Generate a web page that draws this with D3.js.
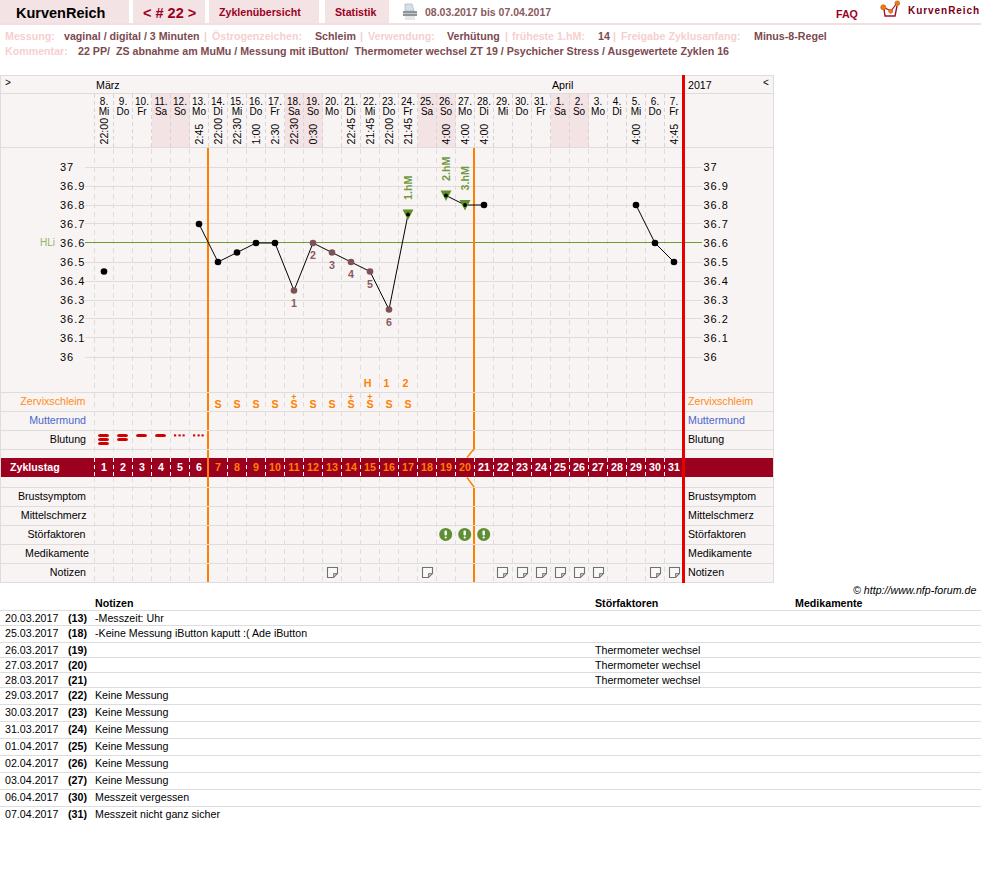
<!DOCTYPE html>
<html><head><meta charset="utf-8">
<script src="https://cdn.jsdelivr.net/npm/d3@7/dist/d3.min.js"></script>
<style>html,body{margin:0;padding:0;background:#fff}svg{display:block}text{font-family:"Liberation Sans",Arial,sans-serif}</style>
</head><body><svg id="c" width="981" height="882"></svg>
<script>
const cycleDays = d3.range(1, 32);
const dayNums = [8,9,10,11,12,13,14,15,16,17,18,19,20,21,22,23,24,25,26,27,28,29,30,31,1,2,3,4,5,6,7];
const weekdays = ["Mi","Do","Fr","Sa","So","Mo","Di","Mi","Do","Fr","Sa","So","Mo","Di","Mi","Do","Fr","Sa","So","Mo","Di","Mi","Do","Fr","Sa","So","Mo","Di","Mi","Do","Fr"];
const times = ["22:00","","","","","2:45","22:00","22:30","1:00","2:30","22:30","0:30","","22:45","21:45","22:00","21:45","","4:00","4:00","4:00","","","","","","","","4:00","","4:45"];
const temps = [36.45,null,null,null,null,36.7,36.5,36.55,36.6,36.6,36.35,36.6,36.55,36.5,36.45,36.25,36.75,null,36.85,36.8,36.8,null,null,null,null,null,null,null,36.8,36.6,36.5];
const lineSegments = [[6,17],[19,21],[29,31]];
const tempTicks = [37,36.9,36.8,36.7,36.6,36.5,36.4,36.3,36.2,36.1,36];
const lowCounts = [[11,"1"],[12,"2"],[13,"3"],[14,"4"],[15,"5"],[16,"6"]];
const highLabels = [[17,"1.hM"],[19,"2.hM"],[20,"3.hM"]];
const coverLine = 36.6;
const mucusDays = [7,8,9,10,11,12,13,14,15,16,17];
const mucusPlusDays = [11,14,15];
const peakLabels = [[15,"H"],[16,"1"],[17,"2"]];
const bleeding = [[1,3],[2,2],[3,1],[4,1],[5,0],[6,0]];
const disturb = [19,20,21];
const noteDays = [13,18,22,23,24,25,26,27,30,31];
const rowNames = ["Zervixschleim","Muttermund","Blutung","Brustsymptom","Mittelschmerz","Störfaktoren","Medikamente","Notizen"];
const infoTexts = ["Messung:","vaginal / digital / 3 Minuten","|","Östrogenzeichen:","Schleim","|","Verwendung:","Verhütung","|","früheste 1.hM:","14","|","Freigabe Zyklusanfang:","Minus-8-Regel"];
const noteDates = ["20.03.2017","25.03.2017","26.03.2017","27.03.2017","28.03.2017","29.03.2017","30.03.2017","31.03.2017","01.04.2017","02.04.2017","03.04.2017","06.04.2017","07.04.2017"];
const noteCycleDays = [13,18,19,20,21,22,23,24,25,26,27,30,31];
const noteTexts = ["-Messzeit: Uhr","-Keine Messung iButton kaputt :( Ade iButton","","","","Keine Messung","Keine Messung","Keine Messung","Keine Messung","Keine Messung","Keine Messung","Messzeit vergessen","Messzeit nicht ganz sicher"];
const noteDisturb = ["","","Thermometer wechsel","Thermometer wechsel","Thermometer wechsel","","","","","","","",""];

// layout
const infoX = [5,64,204,212,315,360,368,447,505,512,598,613,621,754];
const rowTops = [392,411,430,487,506,525,544,563];
const rowEnds = [85.5,86,86,86,86.5,85.5,89,86];
const rowColors = ["#ff8c1a","#4a66cc","#000","#000","#000","#000","#000","#000"];
const noteLines = [610.5,625.5,642.5,657.5,672.5,687.5,704.5,721.5,738.5,755.5,772.5,789.5,806.5];

const svg = d3.select("#c");
const x = d3.scaleLinear().domain([1,31]).range([104,674]);
const y = d3.scaleLinear().domain([36,37]).range([357,167]);
const colW = x(2)-x(1);
const edge = d => x(d)-colW/2;
const GRID="#e0dcdc", BG="#f9f4f4", PINK="#f3e3e5", DARK="#9c001f", OR="#ff8000", RED="#e60000", BROWN="#8a5a60";
const FS=10.67;
function T(s,px,py,o={}){return svg.append("text").attr("x",px).attr("y",py).attr("font-size",o.size||FS).attr("fill",o.fill||"#000").attr("font-weight",o.bold?"bold":null).attr("text-anchor",o.anchor||"start").attr("transform",o.rot?`rotate(${o.rot} ${px} ${py})`:null).text(s);}
function R(a,b,w,h,f){return svg.append("rect").attr("x",a).attr("y",b).attr("width",w).attr("height",h).attr("fill",f);}
function L(a,b,c,d,s,w=1,dash=null){svg.append("line").attr("x1",a).attr("y1",b).attr("x2",c).attr("y2",d).attr("stroke",s).attr("stroke-width",w).attr("stroke-dasharray",dash);}

// header
[[0,129],[133,72],[209,110],[325,64]].forEach(r=>R(r[0],0,r[1],23,PINK));
R(0,23,981,2,"#f3dfe2");
T("KurvenReich",16,18,{size:14.5,bold:true});
T("< # 22 >",143,18,{size:14.5,bold:true,fill:DARK});
T("Zyklenübersicht",219,16,{bold:true,fill:DARK,size:10.67});
T("Statistik",335,16,{bold:true,fill:DARK,size:10.67});
T("08.03.2017 bis 07.04.2017",425,16,{bold:true,fill:"#8a5a60",size:10.5});
T("FAQ",836,18,{bold:true,fill:DARK,size:10.67});
T("KurvenReich",908,14,{bold:true,fill:"#7a0018",size:10}).attr("letter-spacing",0.95);
// printer icon
svg.append("path").attr("d","M405 4 L412 4 L414 11 L405 11 Z").attr("fill","#d5dfe8").attr("stroke","#9db0c0").attr("stroke-width",.6);
R(403,11,14,5,"#8f9599");R(405,16,10,4,"#e4e6e8");R(403,13,14,1,"#c3c7ca");
// logo
const logo=svg.append("g").attr("fill","none").attr("stroke","#a01030");
logo.append("path").attr("d","M884 9 L885 16 L895 16 L897 6").attr("stroke-width",1.4);
logo.append("path").attr("d","M883 7 L891 11 L897 3").attr("stroke-width",1.2);
[[883.3,7.3,2.6],[890.7,11.3,2],[897.3,3.3,2.4]].forEach(c=>svg.append("circle").attr("cx",c[0]).attr("cy",c[1]).attr("r",c[2]).attr("fill","#f08000").attr("stroke","#b04020").attr("stroke-width",.5));

// info rows
const lab="#f6cfcf", val="#7c4a50";
const infoIsValue=[0,1,0,0,1,0,0,1,0,0,1,0,0,1];
infoTexts.forEach((s,i)=>T(s,infoX[i],40,{bold:true,fill:infoIsValue[i]?val:lab}));
T("Kommentar:",5,55,{bold:true,fill:lab});
T("22 PP/  ZS abnahme am MuMu / Messung mit iButton/  Thermometer wechsel ZT 19 / Psychicher Stress / Ausgewertete Zyklen 16",78,55,{bold:true,fill:val}).style("white-space","pre");

// chart panel
R(0.5,75.5,773,507,BG);
cycleDays.forEach((d,i)=>{ if(weekdays[i]==="Sa"||weekdays[i]==="So") R(edge(d)+.5,94,colW,53.5,PINK); });
[93.5,147.5,392.5,411.5,430.5,449.5,487.5,506.5,525.5,544.5,563.5].forEach(v=>L(0,v,773,v,GRID));
svg.append("rect").attr("x",0.5).attr("y",75.5).attr("width",773).attr("height",507).attr("fill","none").attr("stroke",GRID);
tempTicks.forEach(t=>L(85,Math.floor(y(t))+.5,702,Math.floor(y(t))+.5,GRID));
d3.range(0,31).forEach(i=>{const v=94.5+i*colW;L(v,94,v,147,"#d8d4d4",1,"4 3");L(v,149,v,392,GRID,1,"5 4");L(v,393,v,458,GRID,1,"5 4");L(v,477,v,582,GRID,1,"5 4");});

// header text
T(">",5,86,{size:10});T("März",96,89);T("April",552,89);T("2017",688,89);T("<",763,86,{size:10});
cycleDays.forEach((d,i)=>{
  T(dayNums[i]+".",x(d),105,{size:10,anchor:"middle"});
  T(weekdays[i],x(d),115,{size:10,anchor:"middle"});
  if(times[i]) T(times[i],x(d)+4.3,144.5,{rot:-90});
});

// axis labels
tempTicks.forEach(t=>{
  T(String(t),60,y(t)+4,{size:11}).attr("letter-spacing",1);
  T(String(t),703.5,y(t)+4,{size:11}).attr("letter-spacing",1);
});
T("HLi",40,y(coverLine)+3,{size:10,fill:"#8fb36a"});
L(85,Math.floor(y(coverLine))+.5,702,Math.floor(y(coverLine))+.5,"#6f9a35",1);

// row labels
rowNames.forEach((n,i)=>{T(n,rowEnds[i],rowTops[i]+13,{fill:rowColors[i],anchor:"end"});T(n,688,rowTops[i]+13,{fill:rowColors[i]});});

// cycle-day band
R(1,458,772,19,DARK);
T("Zyklustag",10,471,{bold:true,fill:"#fff"});
d3.range(0,31).forEach(i=>{const v=94.5+i*colW;L(v,458,v,477,"#fff",1,"4 3");});
cycleDays.forEach(d=>T(d,x(d),471,{bold:true,anchor:"middle",fill:d>=7&&d<=20?OR:"#fff"}));

// orange evaluation bars, interrupted by the row rules
const ox=edge(7)-.5, ox2=edge(21)-.5;
[[148,392],[393,411],[412,430],[431,449],[450,487],[488,506],[507,525],[526,544],[545,563],[564,582]].forEach(s=>L(ox,s[0],ox,s[1],OR,2));
[[148,392],[393,411],[412,430],[431,449],[488,506],[507,525],[526,544],[545,563],[564,582]].forEach(s=>L(ox2,s[0],ox2,s[1],OR,2));
svg.append("path").attr("d",`M${ox2} 449 L${ox2-7} 457.5 M${ox2-7} 477.5 L${ox2} 487`).attr("stroke",OR).attr("fill","none").attr("stroke-width",1.5);
// red cycle end line
L(edge(32),75,edge(32),583,RED,3);

// temperature lines
const line=d3.line().x(d=>x(d)).y(d=>y(temps[d-1]));
lineSegments.forEach(s=>svg.append("path").attr("d",line(d3.range(s[0],s[1]+1))).attr("fill","none").attr("stroke","#000").attr("stroke-width",1));
highLabels.forEach(h=>{const cx=x(h[0]),cy=y(temps[h[0]-1]);
  svg.append("path").attr("d",`M${cx-5.5} ${cy-5} L${cx+5.5} ${cy-5} L${cx} ${cy+5.5} Z`).attr("fill","#5f8f28");
  T(h[1],cx+4.3,cy-14.5,{bold:true,fill:"#6f9a40",rot:-90});});
const isLow=d=>lowCounts.some(l=>l[0]===d), isHigh=d=>highLabels.some(l=>l[0]===d);
cycleDays.forEach(d=>{const t=temps[d-1]; if(t==null) return;
  svg.append("circle").attr("cx",x(d)).attr("cy",y(t)).attr("r",isHigh(d)?1.9:3.3).attr("fill",isLow(d)?"#7d5158":"#000");});
lowCounts.forEach(l=>T(l[1],x(l[0]),y(temps[l[0]-1])+16,{bold:true,fill:BROWN,anchor:"middle"}));

// mucus
mucusDays.forEach(d=>{
  const t=svg.append("text").attr("font-size",FS).attr("font-weight","bold").attr("fill",OR).attr("text-anchor","middle");
  if(mucusPlusDays.includes(d)) t.append("tspan").attr("x",x(d)).attr("y",400).attr("font-size",9).text("+");
  t.append("tspan").attr("x",x(d)).attr("y",408).text("S");
});
peakLabels.forEach(p=>T(p[1],x(p[0])-2.5,387,{bold:true,fill:OR,anchor:"middle"}));

// bleeding
bleeding.forEach(b=>{const cx=x(b[0])-.5;
  if(b[1]===0){[-5.5,-1,3].forEach(o=>R(cx+o,434.4,2.2,2,"#cc0000"));return;}
  d3.range(b[1]).forEach(k=>R(cx-5.5,434+k*4,11,3.1,"#d00000").attr("rx",2.2).attr("ry",1.55));
});

// disturbance icons
disturb.forEach(d=>{const cx=x(d)-.3,cy=534.4;
  svg.append("circle").attr("cx",cx).attr("cy",cy).attr("r",6.5).attr("fill","#5f8f35");
  R(cx-1.2,cy-4,2.4,5,"#fff").attr("rx",1);R(cx-1.1,cy+2,2.2,2,"#fff").attr("rx",1);});
// note icons
noteDays.forEach(d=>{const a=Math.round(x(d)-5.5),b=567;
  svg.append("path").attr("d",`M${a+.5} ${b+.5} h10 v6 l-4 4 h-6 z`).attr("fill","#f8f8f8").attr("stroke","#707070").attr("stroke-width",1.1);
  svg.append("path").attr("d",`M${a+10.5} ${b+6.5} h-4 v4 z`).attr("fill","#bbb").attr("stroke","#707070").attr("stroke-width",.8);
});

// copyright
T("© http://www.nfp-forum.de",853,594).attr("font-style","italic");
// notes table
T("Notizen",95,607,{bold:true});T("Störfaktoren",595,607,{bold:true});T("Medikamente",795,607,{bold:true});
noteLines.forEach(v=>L(0,v,981,v,"#ddd"));
noteDates.forEach((dt,i)=>{const by=noteLines[i]+11.5;
  T(dt,5,by);T("("+noteCycleDays[i]+")",68,by,{bold:true});T(noteTexts[i],95,by);T(noteDisturb[i],595,by);
});
</script></body></html>
